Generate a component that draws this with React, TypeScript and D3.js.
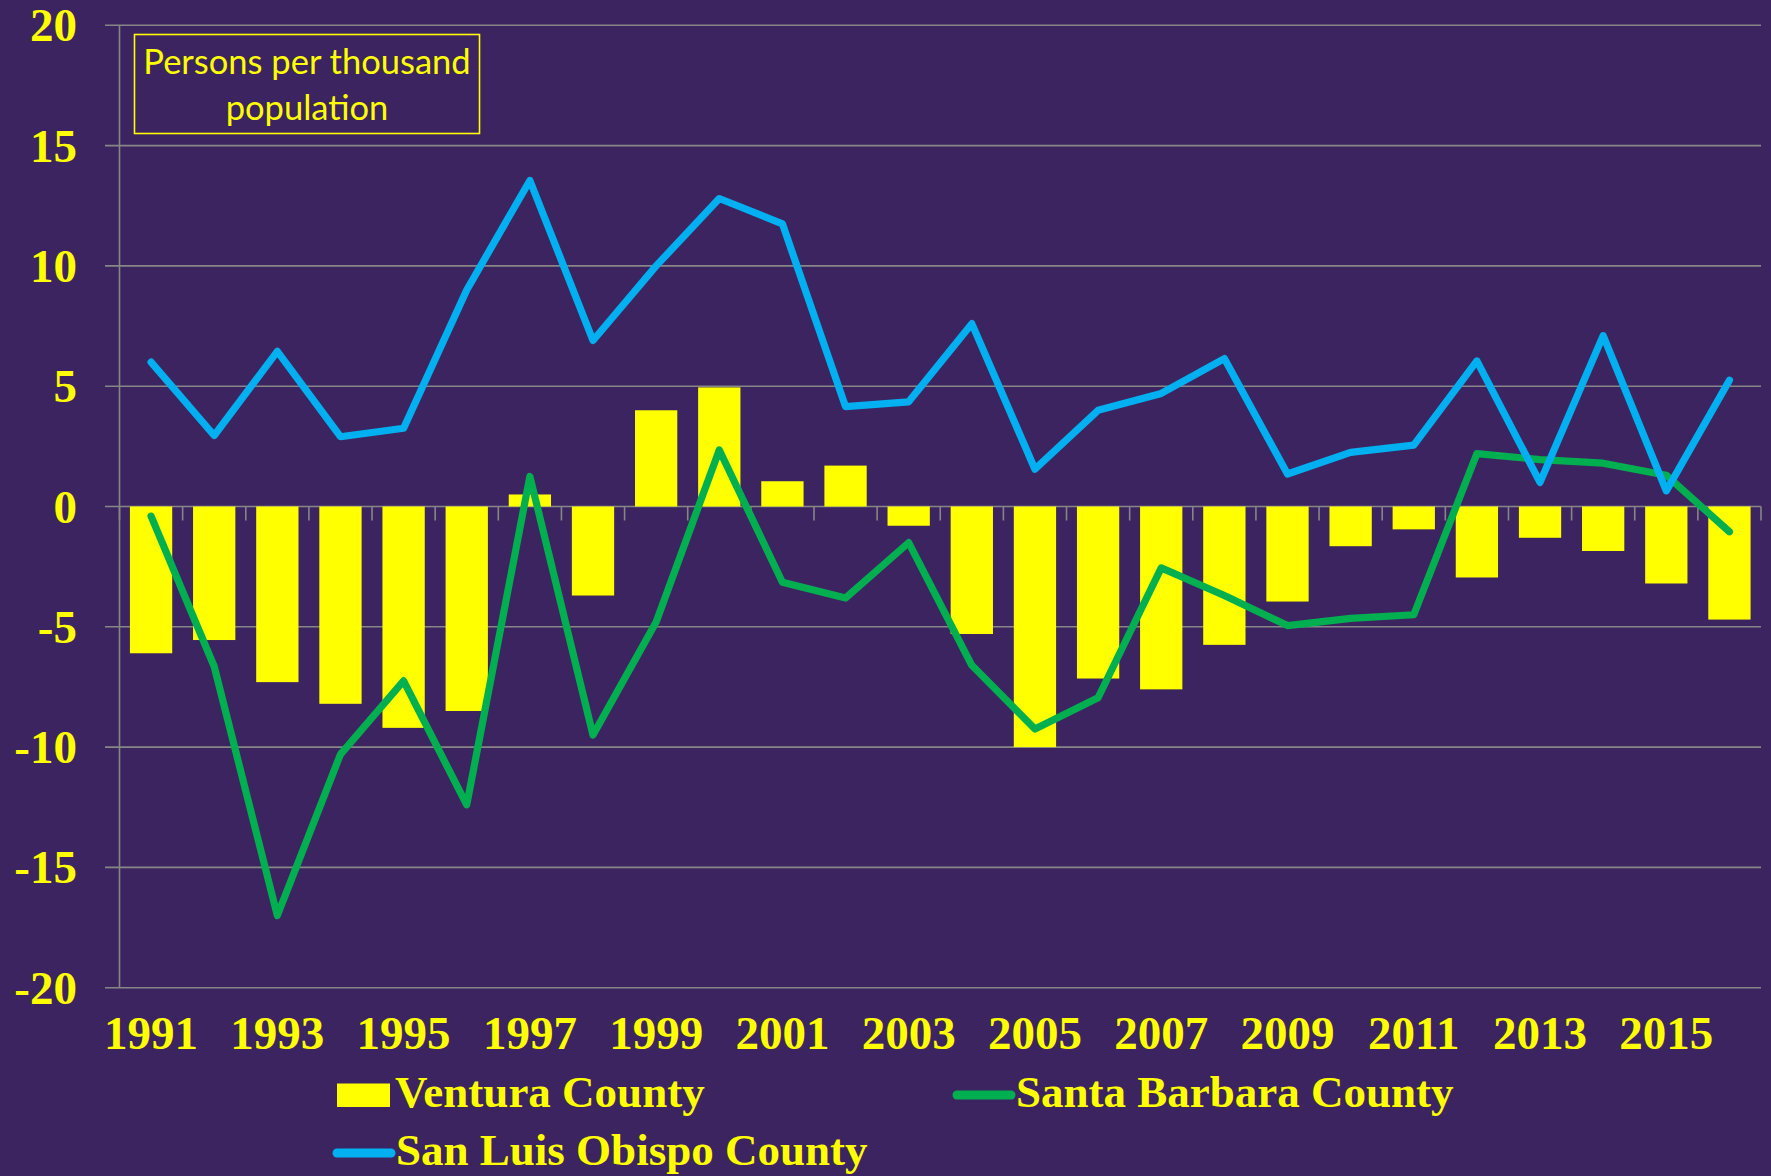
import React, { useEffect } from "react";
import * as d3 from "d3";

const years: number[] = [1991,1992,1993,1994,1995,1996,1997,1998,1999,2000,2001,2002,2003,2004,2005,2006,2007,2008,2009,2010,2011,2012,2013,2014,2015,2016];
const ventura: number[] = [-6.1,-5.55,-7.3,-8.2,-9.2,-8.5,0.5,-3.7,4.0,4.95,1.05,1.7,-0.8,-5.3,-10.0,-7.15,-7.6,-5.75,-3.95,-1.65,-0.95,-2.95,-1.3,-1.85,-3.2,-4.7];
const santaBarbara: number[] = [-0.4,-6.65,-17.0,-10.3,-7.25,-12.4,1.25,-9.5,-4.8,2.35,-3.15,-3.8,-1.5,-6.6,-9.25,-7.95,-2.55,-3.7,-4.95,-4.65,-4.5,2.2,1.95,1.8,1.3,-1.05];
const sanLuisObispo: number[] = [6.0,2.95,6.45,2.9,3.25,9.0,13.55,6.9,10.0,12.8,11.75,4.15,4.35,7.6,1.55,4.0,4.7,6.15,1.35,2.25,2.55,6.05,1.0,7.1,0.65,5.25];
const yTicks: number[] = [-20,-15,-10,-5,0,5,10,15,20];
const xLabelYears: number[] = [1991,1993,1995,1997,1999,2001,2003,2005,2007,2009,2011,2013,2015];
const boxLines: string[] = ["Persons per thousand", "population"];

const BG = "#3C2460";
const YELLOW = "#FFFF00";
const BLUE = "#00B0F0";
const GREEN = "#00B050";
const GRID = "#868686";

export default function App() {
  useEffect(() => {
    document.body.style.margin = "0";
    document.body.style.background = BG;
  }, []);

  const W = 1771, H = 1176;
  const left = 119.5, right = 1761, top = 25.3, bottom = 987.7;

  const x = d3.scaleBand<number>().domain(years).range([left, right]).paddingInner(0.33).paddingOuter(0.165);
  const xb = d3.scaleBand<number>().domain(years).range([left, right]).padding(0);
  const y = d3.scaleLinear().domain([-20, 20]).range([bottom, top]);
  const cx = (yr: number) => (x(yr) as number) + x.bandwidth() / 2;

  const line = d3.line<number>().x((_, i) => cx(years[i])).y((v) => y(v));

  const serif = "'Liberation Serif', 'DejaVu Serif', serif";
  const legend = [
    { label: "Ventura County", type: "rect", color: YELLOW, mx: 337, tx: 395, ty: 1107 },
    { label: "Santa Barbara County", type: "line", color: GREEN, mx: 957, tx: 1016, ty: 1107 },
    { label: "San Luis Obispo County", type: "line", color: BLUE, mx: 337, tx: 396, ty: 1165 },
  ];

  const boundaries = [...years.map((yr) => xb(yr) as number), right];

  return (
    <svg width={W} height={H} style={{ position: "absolute", left: 0, top: 0, display: "block" }}>
      <rect x={0} y={0} width={W} height={H} fill={BG} />
      {yTicks.map((t) => (
        <line key={"g" + t} x1={105} x2={right} y1={y(t)} y2={y(t)} stroke={GRID} strokeWidth={1.6} />
      ))}
      <line x1={left} x2={left} y1={top} y2={bottom} stroke={GRID} strokeWidth={1.6} />
      {boundaries.map((bx, i) => (
        <line key={"t" + i} x1={bx} x2={bx} y1={y(0)} y2={y(0) + 14} stroke={GRID} strokeWidth={1.6} />
      ))}
      {years.map((yr, i) => {
        const v = ventura[i];
        return (
          <rect key={"b" + yr} x={x(yr)} width={x.bandwidth()} y={Math.min(y(v), y(0))} height={Math.abs(y(v) - y(0))} fill={YELLOW} />
        );
      })}
      <path d={line(santaBarbara) || ""} fill="none" stroke={GREEN} strokeWidth={7.2} strokeLinejoin="round" strokeLinecap="round" />
      <path d={line(sanLuisObispo) || ""} fill="none" stroke={BLUE} strokeWidth={7.2} strokeLinejoin="round" strokeLinecap="round" />
      {yTicks.map((t) => (
        <text key={"yl" + t} x={77} y={y(t) + 16} textAnchor="end" fill={YELLOW} fontFamily={serif} fontWeight="bold" fontSize={47}>
          {t}
        </text>
      ))}
      {xLabelYears.map((yr) => (
        <text key={"xl" + yr} x={cx(yr)} y={1049} textAnchor="middle" fill={YELLOW} fontFamily={serif} fontWeight="bold" fontSize={47}>
          {yr}
        </text>
      ))}
      <rect x={134.5} y={34.5} width={345} height={99} fill="none" stroke={YELLOW} strokeWidth={1.6} />
      {boxLines.map((s, i) => (
        <text key={"bl" + i} x={307} y={74 + i * 46} textAnchor="middle" fill={YELLOW} fontFamily="Lato, 'Open Sans', sans-serif" fontSize={34.5}>
          {s}
        </text>
      ))}
      {legend.map((l) => (
        <g key={l.label}>
          {l.type === "rect" ? (
            <rect x={l.mx} y={l.ty - 23.5} width={53} height={23.5} fill={l.color} />
          ) : (
            <line x1={l.mx} x2={l.mx + 54} y1={l.ty - 12} y2={l.ty - 12} stroke={l.color} strokeWidth={9} strokeLinecap="round" />
          )}
          <text x={l.tx} y={l.ty} fill={YELLOW} fontFamily={serif} fontWeight="bold" fontSize={45}>
            {l.label}
          </text>
        </g>
      ))}
    </svg>
  );
}
